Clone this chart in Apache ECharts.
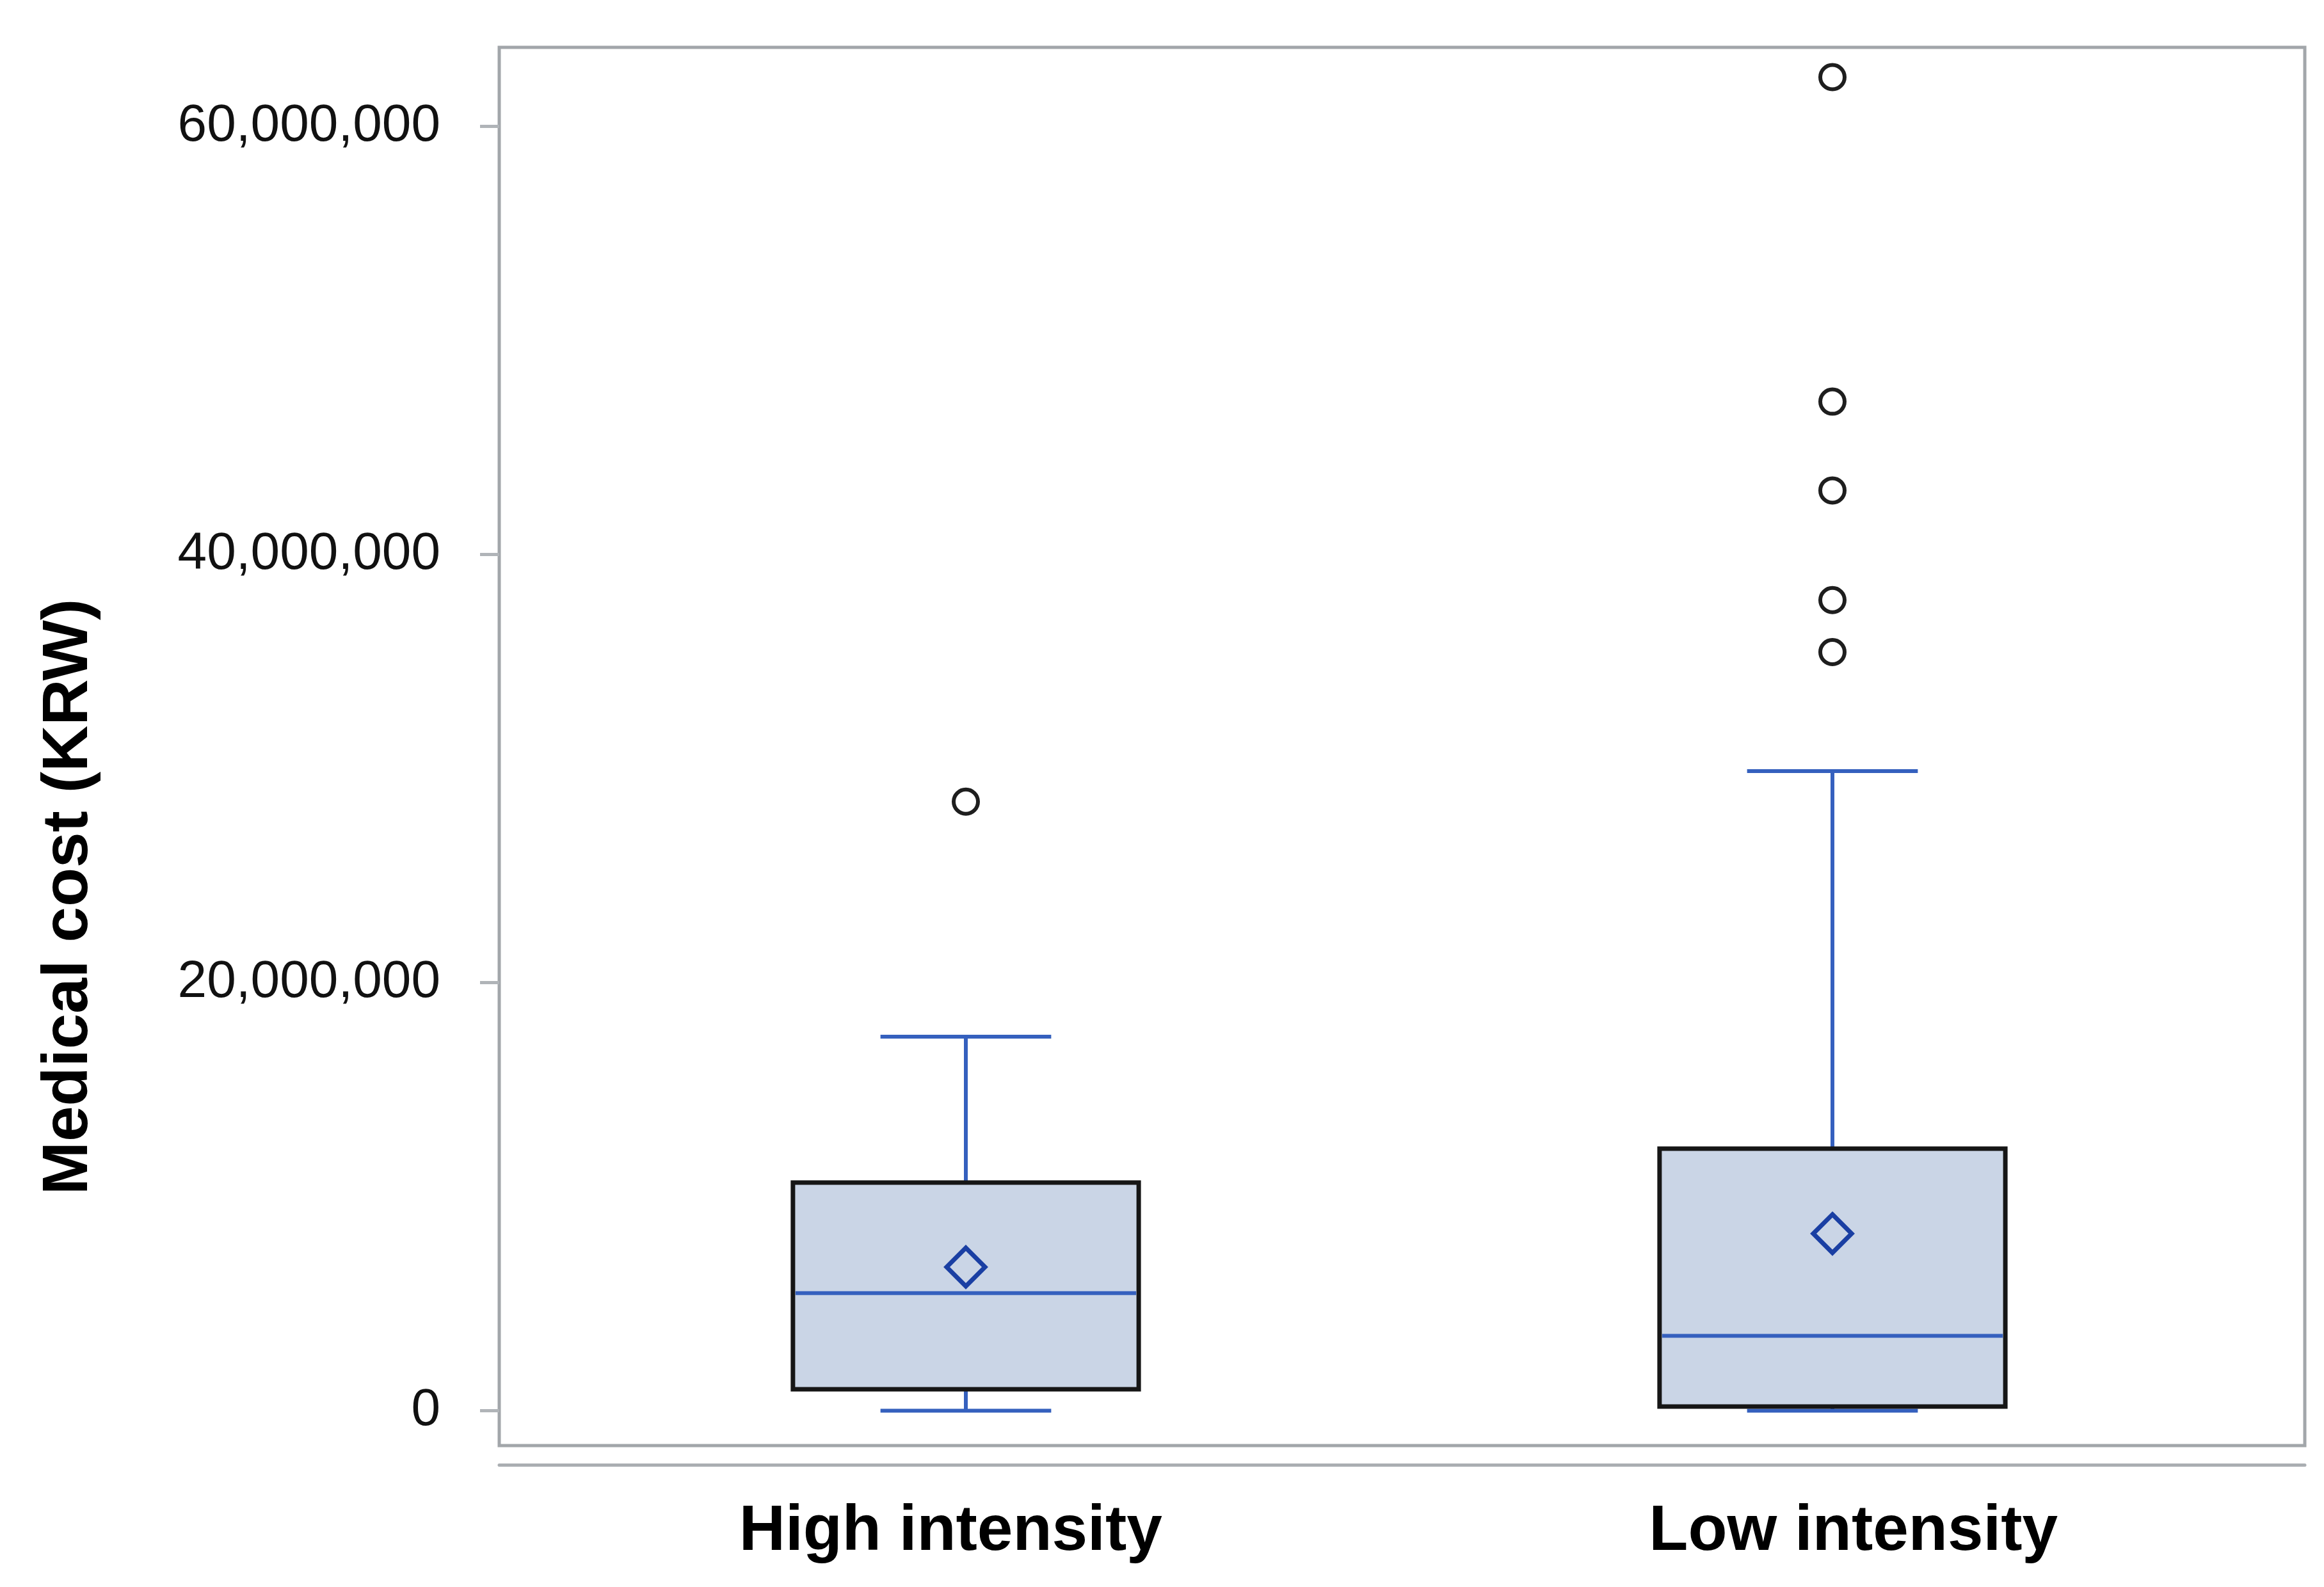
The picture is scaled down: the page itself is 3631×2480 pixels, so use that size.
<!DOCTYPE html>
<html>
<head>
<meta charset="utf-8">
<script src="https://cdn.jsdelivr.net/npm/echarts@6/dist/echarts.min.js"></script>
<style>
  html, body { margin: 0; padding: 0; background: #ffffff; }
  #chart { width: 3631px; height: 2480px; }
</style>
</head>
<body>
<div id="chart"></div>
<script>
const categories = ['High intensity', 'Low intensity'];
const whiskerLow = [0, 0];
const q1 = [1000000, 190000];
const median = [5490000, 3500000];
const q3 = [10660000, 12240000];
const whiskerHigh = [17470000, 29880000];
const means = [6710000, 8270000];
const outliersHigh = [28450000];
const outliersLow = [35440000, 37870000, 42990000, 47140000, 62300000];
const yTicks = [0, 20000000, 40000000, 60000000];
const yMin = -1630000;
const yMax = 63690000;

const boxData = categories.map((c, i) => [i, whiskerLow[i], q1[i], median[i], q3[i], whiskerHigh[i]]);
const meanData = categories.map((c, i) => [i, means[i]]);
const outlierData = outliersHigh.map(v => [0, v]).concat(outliersLow.map(v => [1, v]));

const BLUE = '#3560be';
const DIAMOND = '#1a3fa3';

function renderBox(params, api) {
  const x = api.value(0);
  const lo = api.coord([x, api.value(1)]);
  const b1 = api.coord([x, api.value(2)]);
  const md = api.coord([x, api.value(3)]);
  const b3 = api.coord([x, api.value(4)]);
  const hi = api.coord([x, api.value(5)]);
  const band = api.size([1, 0])[0];
  const bw = band * 0.399;
  const cw = band * 0.197;
  const cx = md[0];
  const ws = { stroke: BLUE, lineWidth: 6 };
  return {
    type: 'group',
    children: [
      { type: 'line', shape: { x1: cx, y1: hi[1], x2: cx, y2: b3[1] }, style: ws },
      { type: 'line', shape: { x1: cx, y1: b1[1], x2: cx, y2: lo[1] }, style: ws },
      { type: 'line', shape: { x1: cx - cw / 2, y1: hi[1], x2: cx + cw / 2, y2: hi[1] }, style: ws },
      { type: 'line', shape: { x1: cx - cw / 2, y1: lo[1], x2: cx + cw / 2, y2: lo[1] }, style: ws },
      { type: 'rect', shape: { x: cx - bw / 2, y: b3[1], width: bw, height: b1[1] - b3[1] },
        style: { fill: '#cad5e6', stroke: '#161616', lineWidth: 7 } },
      { type: 'line', shape: { x1: cx - bw / 2 + 4, y1: md[1], x2: cx + bw / 2 - 4, y2: md[1] }, style: ws }
    ]
  };
}

const chart = echarts.init(document.getElementById('chart'), null, { renderer: 'canvas' });
chart.setOption({
  animation: false,
  backgroundColor: '#ffffff',
  textStyle: { fontFamily: 'Liberation Sans' },
  grid: [
    { left: 780, right: 30, top: 74, bottom: 221, show: true, borderColor: '#a2a6aa', borderWidth: 5, backgroundColor: '#ffffff' },
    { left: 832, right: 91, top: 74, bottom: 221, show: false }
  ],
  xAxis: [
    {
      type: 'category', gridIndex: 0, data: categories, boundaryGap: true,
      offset: 30,
      axisLine: { show: true, onZero: false, lineStyle: { color: '#aaaeb2', width: 5 } },
      axisTick: { show: false },
      splitLine: { show: false },
      axisLabel: { fontSize: 100, fontWeight: 'bold', color: '#000000', margin: 55, fontFamily: 'Liberation Sans' }
    },
    { type: 'category', gridIndex: 1, data: categories, show: false }
  ],
  yAxis: [
    {
      type: 'value', gridIndex: 0, min: yMin, max: yMax,
      axisLine: { show: false },
      splitLine: { show: false },
      axisTick: { show: true, length: 30, customValues: yTicks, lineStyle: { color: '#b0b4b8', width: 5 } },
      axisLabel: {
        customValues: yTicks, fontSize: 82, color: '#111111', margin: 92,
        formatter: v => Number(v).toLocaleString('en-US')
      },
      name: 'Medical cost (KRW)',
      nameLocation: 'middle',
      nameRotate: 90,
      nameGap: 622,
      nameTextStyle: { fontSize: 100, fontWeight: 'bold', color: '#000000', padding: [0, 470, 0, 0] }
    },
    { type: 'value', gridIndex: 1, min: yMin, max: yMax, show: false }
  ],
  series: [
    {
      type: 'custom', xAxisIndex: 1, yAxisIndex: 1,
      renderItem: renderBox,
      encode: { x: 0, y: [1, 2, 3, 4, 5] },
      data: boxData, z: 2
    },
    {
      type: 'scatter', xAxisIndex: 1, yAxisIndex: 1,
      symbol: 'diamond', symbolSize: 60,
      itemStyle: { color: 'rgba(0,0,0,0)', borderColor: DIAMOND, borderWidth: 7, opacity: 1 },
      data: meanData, z: 3
    },
    {
      type: 'scatter', xAxisIndex: 1, yAxisIndex: 1,
      symbol: 'circle', symbolSize: 38,
      itemStyle: { color: '#ffffff', borderColor: '#1e1e1e', borderWidth: 6, opacity: 1 },
      data: outlierData, z: 3
    }
  ]
});
</script>
</body>
</html>
